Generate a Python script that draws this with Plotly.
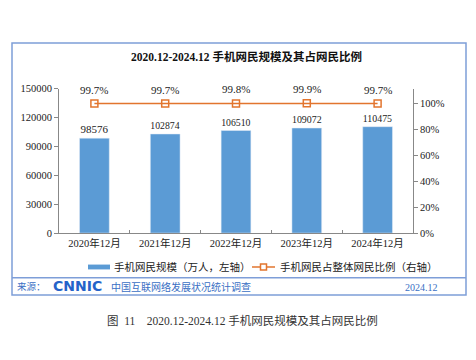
import plotly.graph_objects as go

categories = ["2020年12月", "2021年12月", "2022年12月", "2023年12月", "2024年12月"]
users = [98576, 102874, 106510, 109072, 110475]
share = [99.7, 99.7, 99.8, 99.9, 99.7]
left_ticks = [0, 30000, 60000, 90000, 120000, 150000]
right_ticks = [0, 20, 40, 60, 80, 100]

W, H = 476, 360
OFF = 8  # page body margin
def px(x): return (x - OFF) / W
def py(y): return 1 - (y - OFF) / H

SERIF = "Liberation Serif, Times New Roman, Noto Sans CJK SC, serif"
BAR_C = "#5B9BD5"
LINE_C = "#E2752E"
BLUE = "#3A6FC4"

fig = go.Figure()
fig.add_trace(go.Bar(
    x=categories, y=users, marker_color=BAR_C, width=0.42,
    text=[str(v) for v in users], textposition="outside",
    textfont=dict(family=SERIF, size=11, color="#222"), cliponaxis=False,
    name="手机网民规模（万人，左轴）", showlegend=False, yaxis="y"))
fig.add_trace(go.Scatter(
    x=categories, y=share, mode="lines+markers", yaxis="y2",
    line=dict(color=LINE_C, width=1.5),
    marker=dict(symbol="square-open", size=7, color=LINE_C, line=dict(width=1.5, color=LINE_C)),
    name="手机网民占整体网民比例（右轴）", showlegend=False, cliponaxis=False))

annotations = []
for c, s in zip(categories, share):
    annotations.append(dict(x=c, y=s, xref="x", yref="y2", yshift=14, text=f"{s}%",
                            yanchor="middle", showarrow=False,
                            font=dict(family=SERIF, size=11, color="#222")))

def note(x, y, text, size, color, xanchor="center", family=SERIF):
    return dict(x=px(x), y=py(y), xref="paper", yref="paper", xanchor=xanchor, yanchor="middle",
                showarrow=False, text=text, font=dict(family=family, size=size, color=color))

annotations += [
    note(246, 53, "<b>2020.12-2024.12 手机网民规模及其占网民比例</b>", 11.5, "#111"),
    # legend
    note(112, 270, "手机网民规模（万人，左轴）", 10.5, "#222", "left"),
    note(278, 270, "手机网民占整体网民比例（右轴）", 10.5, "#222", "left"),
    # source
    note(15, 291, "来源：", 9.5, BLUE, "left"),
    note(51, 290, "<b>CNNIC</b>", 14, "#2563C9", "left", "DejaVu Sans"),
    note(109, 291, "中国互联网络发展状况统计调查", 10, BLUE, "left"),
    note(440, 291, "2024.12", 10, BLUE, "right"),
    # caption
    note(242, 325, "图  11    2020.12-2024.12 手机网民规模及其占网民比例", 11.5, "#333"),
]

shapes = [
    dict(type="rect", xref="paper", yref="paper", x0=px(12), x1=px(466), y0=py(299), y1=py(39),
         line=dict(color="#7E9ED8", width=1.5), fillcolor="rgba(0,0,0,0)", layer="below"),
    dict(type="line", xref="paper", yref="paper", x0=px(12), x1=px(466), y0=py(281), y1=py(281),
         line=dict(color="#7E9ED8", width=1.5)),
    dict(type="rect", xref="paper", yref="paper", x0=px(88), x1=px(110), y0=py(272.5), y1=py(267.5),
         line=dict(width=0), fillcolor=BAR_C),
    dict(type="line", xref="paper", yref="paper", x0=px(252), x1=px(275), y0=py(270), y1=py(270),
         line=dict(color=LINE_C, width=1.5)),
    dict(type="rect", xref="paper", yref="paper", x0=px(260.5), x1=px(266.5), y0=py(273), y1=py(267),
         line=dict(color=LINE_C, width=1.5), fillcolor="white"),
]

axis_font = dict(family=SERIF, size=10.5, color="#222")
fig.update_layout(
    width=W, height=H, margin=dict(l=0, r=0, t=0, b=0),
    paper_bgcolor="white", plot_bgcolor="rgba(0,0,0,0)",
    showlegend=False, bargap=0.58,
    xaxis=dict(domain=[px(59), px(413)], showline=True, linecolor="#888", linewidth=1,
               ticks="inside", tickson="boundaries", ticklen=3, tickcolor="#888",
               tickfont=axis_font, showgrid=False, anchor="y"),
    yaxis=dict(domain=[py(235), py(86)], range=[0, 150000], tickvals=left_ticks,
               tickformat="d",
               showline=True, linecolor="#888", linewidth=1, ticks="outside", ticklen=4,
               tickcolor="#888", tickfont=axis_font, showgrid=False, zeroline=False),
    yaxis2=dict(overlaying="y", side="right", range=[0, 111.2], tickvals=right_ticks,
                ticktext=[f"{t}%" for t in right_ticks], showline=True, linecolor="#888",
                linewidth=1, ticks="outside", ticklen=4, tickcolor="#888", tickfont=axis_font,
                showgrid=False, zeroline=False, anchor="x"),
    annotations=annotations, shapes=shapes,
)
fig.write_html("out.html")
